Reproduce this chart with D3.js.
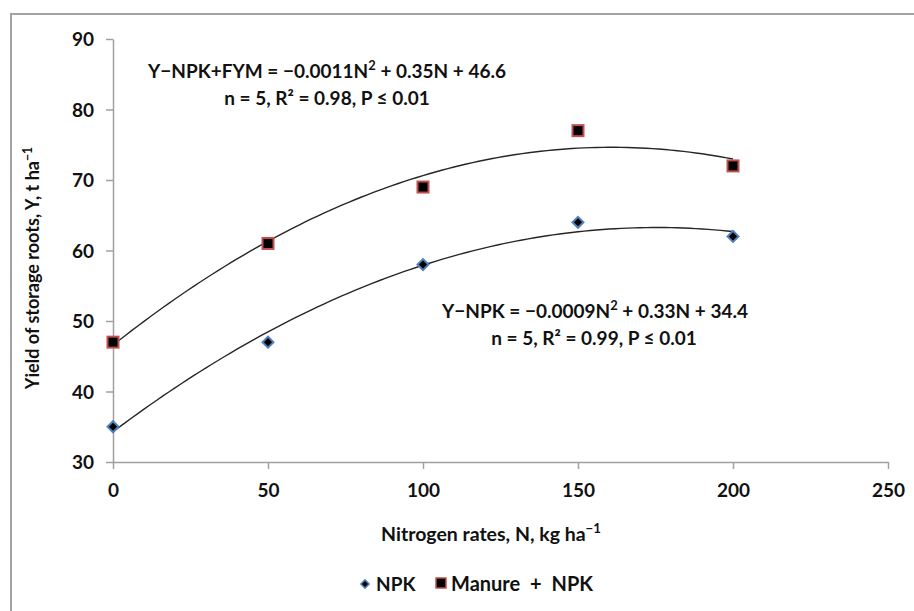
<!DOCTYPE html>
<html>
<head>
<meta charset="utf-8">
<script src="https://cdn.jsdelivr.net/npm/d3@7"></script>
<style>
  html, body { margin: 0; padding: 0; background: #fff; }
  svg { display: block; font-family: Lato, "Open Sans", sans-serif; font-weight: 700; }
</style>
</head>
<body>
<svg id="chart" width="914" height="611"></svg>
<script>
// Nitrogen application rates (kg/ha) and storage-root yields (t/ha)
const nRates = [0, 50, 100, 150, 200];
const yieldNPK = [35, 47, 58, 64, 62];
const yieldManureNPK = [47, 61, 69, 77, 72];
const xTickValues = [0, 50, 100, 150, 200, 250];
const yTickValues = [30, 40, 50, 60, 70, 80, 90];

const svg = d3.select("#chart");
const W = 914, H = 611;
const plotLeft = 113, plotRight = 888, plotTop = 39, plotBottom = 462;

// Outer chart frame (runs off the right/bottom edges)
svg.append("rect")
  .attr("x", 11).attr("y", 14)
  .attr("width", W + 20).attr("height", H + 20)
  .attr("fill", "#fff").attr("stroke", "#a3a3a3").attr("stroke-width", 2);

const x = d3.scaleLinear().domain([0, 250]).range([plotLeft, plotRight]);
const y = d3.scaleLinear().domain([30, 90]).range([plotBottom, plotTop]);

const axisColor = "#a0a0a0";

// Y axis
const gy = svg.append("g").attr("transform", `translate(${plotLeft},0)`)
  .call(d3.axisLeft(y).tickValues(yTickValues).tickSize(7).tickSizeOuter(0).tickPadding(12));
// X axis
const gx = svg.append("g").attr("transform", `translate(0,${plotBottom})`)
  .call(d3.axisBottom(x).tickValues(xTickValues).tickSize(7).tickSizeOuter(0));

[gx, gy].forEach(g => {
  g.select(".domain").attr("stroke", axisColor).attr("stroke-width", 1.5);
  g.selectAll(".tick line").attr("stroke", axisColor).attr("stroke-width", 1.5);
  g.selectAll(".tick text")
    .attr("fill", "#111").attr("font-size", 19).attr("font-weight", 700)
    .attr("font-family", "Lato, 'Open Sans', sans-serif");
});
gy.selectAll(".tick text").attr("dy", "0.35em");
gx.selectAll(".tick text").attr("y", 35).attr("dy", 0);

// Least-squares quadratic fit y = a + b x + c x^2
function quadFit(xs, ys) {
  const n = xs.length;
  let s = [0, 0, 0, 0, 0], t = [0, 0, 0];
  for (let i = 0; i < n; i++) {
    const xv = xs[i], yv = ys[i];
    for (let k = 0; k < 5; k++) s[k] += Math.pow(xv, k);
    for (let k = 0; k < 3; k++) t[k] += yv * Math.pow(xv, k);
  }
  const M = [[s[0], s[1], s[2], t[0]], [s[1], s[2], s[3], t[1]], [s[2], s[3], s[4], t[2]]];
  for (let i = 0; i < 3; i++) {
    let p = i;
    for (let r = i + 1; r < 3; r++) if (Math.abs(M[r][i]) > Math.abs(M[p][i])) p = r;
    [M[i], M[p]] = [M[p], M[i]];
    for (let r = 0; r < 3; r++) {
      if (r === i) continue;
      const f = M[r][i] / M[i][i];
      for (let c = i; c < 4; c++) M[r][c] -= f * M[i][c];
    }
  }
  return [M[0][3] / M[0][0], M[1][3] / M[1][1], M[2][3] / M[2][2]];
}

function trend(ys) {
  const [a, b, c] = quadFit(nRates, ys);
  const pts = d3.range(0, 200.01, 2).map(n => [n, a + b * n + c * n * n]);
  svg.append("path")
    .attr("d", d3.line().x(d => x(d[0])).y(d => y(d[1]))(pts))
    .attr("fill", "none").attr("stroke", "#262626").attr("stroke-width", 1.4);
}
trend(yieldNPK);
trend(yieldManureNPK);

// Markers
const diamond = d3.symbol().type(d3.symbolSquare).size(60);
svg.append("g").selectAll("path").data(nRates).join("path")
  .attr("d", diamond)
  .attr("transform", (d, i) => `translate(${x(d)},${y(yieldNPK[i])}) rotate(45)`)
  .attr("fill", "#000").attr("stroke", "#4f81bd").attr("stroke-width", 2);

const sq = 11;
svg.append("g").selectAll("rect").data(nRates).join("rect")
  .attr("x", d => x(d) - sq / 2)
  .attr("y", (d, i) => y(yieldManureNPK[i]) - sq / 2)
  .attr("width", sq).attr("height", sq)
  .attr("fill", "#000").attr("stroke", "#c0504d").attr("stroke-width", 2);

// Text helper with superscripts: parts = [[text, isSup], ...]
function richText(cx, by, parts, size) {
  const t = svg.append("text").attr("x", cx).attr("y", by)
    .attr("text-anchor", "middle").attr("font-size", size).attr("fill", "#111");
  parts.forEach(([s, sup]) => {
    const ts = t.append("tspan").text(s);
    if (sup) ts.attr("font-size", size * 0.68).attr("baseline-shift", "super");
  });
  return t;
}

// Regression equations
richText(327, 78, [["Y\u2212NPK+FYM = \u22120.0011N", false], ["2", true], [" + 0.35N + 46.6", false]], 19);
richText(327, 105, [["n = 5, R\u00B2 = 0.98, P \u2264 0.01", false]], 19);
richText(595, 318, [["Y\u2212NPK = \u22120.0009N", false], ["2", true], [" + 0.33N + 34.4", false]], 19);
richText(594, 345, [["n = 5, R\u00B2 = 0.99, P \u2264 0.01", false]], 19);

// Axis titles
richText(491, 541, [["Nitrogen rates, N, kg ha", false], ["\u22121", true]], 19.5);
const yt = richText(0, 0, [["Yield of storage roots,  Y, t ha", false], ["\u22121", true]], 18);
yt.attr("transform", "translate(39,268) rotate(-90)");

// Legend
svg.append("path").attr("d", d3.symbol().type(d3.symbolSquare).size(34))
  .attr("transform", "translate(365,584) rotate(45)")
  .attr("fill", "#000").attr("stroke", "#4f81bd").attr("stroke-width", 1.5);
svg.append("text").attr("x", 376).attr("y", 591).attr("font-size", 19).attr("fill", "#111").text("NPK");
svg.append("rect").attr("x", 436).attr("y", 578).attr("width", 10).attr("height", 10)
  .attr("fill", "#000").attr("stroke", "#c0504d").attr("stroke-width", 1.5);
svg.append("text").attr("x", 451).attr("y", 591).attr("font-size", 20).attr("fill", "#111")
  .attr("word-spacing", 5).text("Manure + NPK");
</script>
</body>
</html>
